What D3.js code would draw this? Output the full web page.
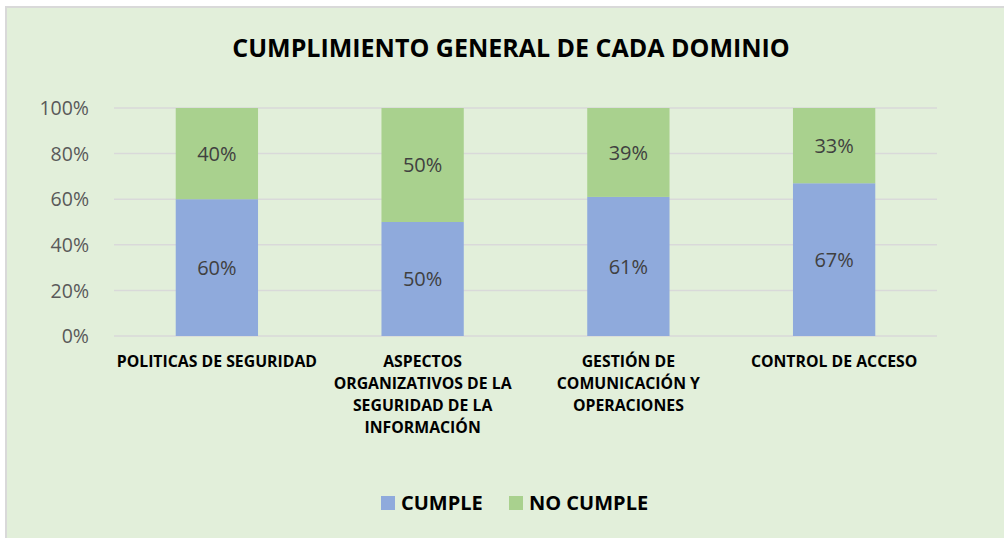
<!DOCTYPE html>
<html>
<head>
<meta charset="utf-8">
<script src="https://cdn.jsdelivr.net/npm/d3@7"></script>
<style>
	body { margin: 0; background: #fff; }
	svg { display: block; font-family: 'Open Sans', sans-serif; }
</style>
</head>
<body>
<div id="chart"></div>
<script>
const categories = [
	['POLITICAS DE SEGURIDAD'],
	['ASPECTOS', 'ORGANIZATIVOS DE LA', 'SEGURIDAD DE LA', 'INFORMACIÓN'],
	['GESTIÓN DE', 'COMUNICACIÓN Y', 'OPERACIONES'],
	['CONTROL DE ACCESO']
];
const cumple = [0.60, 0.50, 0.61, 0.67];
const noCumple = [0.40, 0.50, 0.39, 0.33];
const yTicks = [0, 0.2, 0.4, 0.6, 0.8, 1];
const seriesNames = ['CUMPLE', 'NO CUMPLE'];
const colors = ['#8FAADC', '#A9D18E'];

const W = 1004, H = 538;
const margin = { top: 108, right: 67, bottom: 202, left: 114 };
const width = W - margin.left - margin.right;
const height = H - margin.top - margin.bottom;

const svg = d3.select('#chart').append('svg')
	.attr('width', W)
	.attr('height', H);

// chart area background + border
svg.append('rect')
	.attr('x', 6).attr('y', 7)
	.attr('width', W - 5).attr('height', H - 6)
	.attr('fill', '#E2EFDA')
	.attr('stroke', '#D9D9D9')
	.attr('stroke-width', 2);

svg.append('text')
	.attr('x', 511).attr('y', 57)
	.attr('text-anchor', 'middle')
	.attr('font-weight', 'bold')
	.attr('font-size', 25)
	.attr('fill', '#000')
	.text('CUMPLIMIENTO GENERAL DE CADA DOMINIO');

const g = svg.append('g')
	.attr('transform', 'translate(' + margin.left + ',' + margin.top + ')');

const x = d3.scaleBand().domain(d3.range(categories.length)).range([0, width]).paddingInner(0.6).paddingOuter(0.3);
const y = d3.scaleLinear().domain([0, 1]).range([height, 0]);

// grid
g.append('g')
	.selectAll('line')
	.data(yTicks)
	.enter()
	.append('line')
	.attr('x1', 0)
	.attr('x2', width)
	.attr('y1', d => y(d))
	.attr('y2', d => y(d))
	.attr('stroke', '#D9D9D9')
	.attr('stroke-width', 1.5);

const yAxis = g.append('g')
	.attr('transform', 'translate(-22,0)')
	.call(d3.axisLeft(y).tickValues(yTicks).tickFormat(d3.format('.0%')).tickSize(0));
yAxis.select('.domain').remove();
yAxis.selectAll('text')
	.attr('font-family', "'Open Sans', sans-serif")
	.attr('font-size', 19.5)
	.attr('fill', '#595959')
	.attr('dy', '0.34em');

const stacked = categories.map((c, i) => [
	{ i, s: 0, y0: 0, y1: cumple[i], v: cumple[i] },
	{ i, s: 1, y0: cumple[i], y1: cumple[i] + noCumple[i], v: noCumple[i] }
]).flat();

g.append('g')
	.selectAll('rect')
	.data(stacked)
	.enter()
	.append('rect')
	.attr('x', d => x(d.i))
	.attr('y', d => y(d.y1))
	.attr('width', x.bandwidth())
	.attr('height', d => y(d.y0) - y(d.y1))
	.attr('fill', d => colors[d.s]);

g.append('g')
	.selectAll('text')
	.data(stacked)
	.enter()
	.append('text')
	.attr('x', d => x(d.i) + x.bandwidth() / 2)
	.attr('y', d => (y(d.y0) + y(d.y1)) / 2)
	.attr('dy', '0.36em')
	.attr('text-anchor', 'middle')
	.attr('font-size', 20)
	.attr('fill', '#404040')
	.text(d => d3.format('.0%')(d.v));

// category labels
const xl = g.append('g')
	.selectAll('text')
	.data(categories)
	.enter()
	.append('text')
	.attr('x', (d, i) => x(i) + x.bandwidth() / 2)
	.attr('y', 31)
	.attr('transform', 'translate(0,' + height + ')')
	.attr('text-anchor', 'middle')
	.attr('font-weight', 'bold')
	.attr('font-size', 15.8)
	.attr('fill', '#000');
xl.selectAll('tspan')
	.data(d => d)
	.enter()
	.append('tspan')
	.attr('x', function () { return this.parentNode.getAttribute('x'); })
	.attr('dy', (d, i) => (i === 0 ? 0 : 22))
	.text(d => d);

// legend
const legendX = [381, 509];
const legend = svg.append('g')
	.selectAll('g')
	.data(seriesNames)
	.enter()
	.append('g')
	.attr('transform', (d, i) => 'translate(' + legendX[i] + ',496)');
legend.append('rect')
	.attr('width', 14)
	.attr('height', 14)
	.attr('fill', (d, i) => colors[i]);
legend.append('text')
	.attr('x', 20)
	.attr('y', 7)
	.attr('dy', '0.36em')
	.attr('font-weight', 'bold')
	.attr('font-size', 20)
	.attr('fill', '#000')
	.text(d => d);
</script>
</body>
</html>
